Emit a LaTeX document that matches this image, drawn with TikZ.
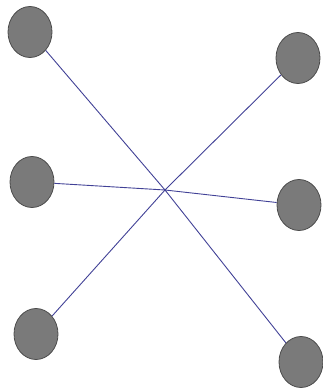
\documentclass[tikz,border=0pt]{standalone}
\usetikzlibrary{shapes.geometric}
\begin{document}
\begin{tikzpicture}[x=1pt,y=-1pt,
  dot/.style={ellipse, draw=black!70, line width=0.8pt, fill=black!52, minimum width=44pt, minimum height=51pt, inner sep=0pt},
  link/.style={draw={rgb,255:red,65;green,65;blue,150}, line width=0.9pt}]
\useasboundingbox (0,0) rectangle (323,388);
\node[dot] (tl) at (30,32) {};
\node[dot] (ml) at (32,182) {};
\node[dot] (bl) at (36,334) {};
\node[dot] (tr) at (298,58) {};
\node[dot] (mr) at (299,205) {};
\node[dot] (br) at (301,362) {};
\coordinate (c) at (165,190);
\draw[link] (tl) -- (c) -- (br);
\draw[link] (ml) -- (c) -- (mr);
\draw[link] (bl) -- (c) -- (tr);
\end{tikzpicture}
\end{document}
